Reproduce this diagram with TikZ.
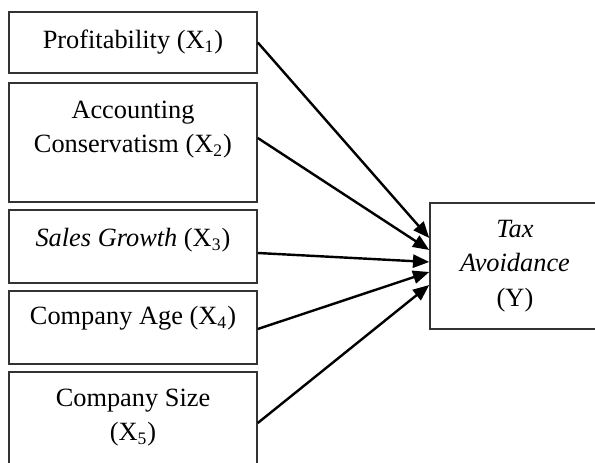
\documentclass[tikz,border=0pt]{standalone}
\usepackage{fontspec}
\setmainfont{Liberation Serif}
\usetikzlibrary{arrows.meta,positioning}

\begin{document}
\begin{tikzpicture}[
  font=\fontsize{12}{15.8}\selectfont,
  >={Triangle[length=2.6mm,width=2.1mm]},
  every node/.style={inner sep=0pt, text=black},
  box/.style={draw=black!80, line width=0.7pt, minimum width=3.968cm, align=center},
  ybox/.style={draw=black!80, line width=0.7pt, minimum width=2.72cm,
               minimum height=2.016cm, align=center},
  txt/.style={align=center},
  flow/.style={draw=black, line width=1.1pt, ->},
]
\useasboundingbox (0,0) rectangle (9.52,7.408);
\clip (0,0) rectangle (9.52,7.408);

% ---------------- independent variables ----------------
\node[box, minimum height=0.976cm] (x1) at (2.128,6.728) {Profitability (X\textsubscript{1})};

\node[box, minimum height=1.904cm] (x2) at (2.128,5.128) {};
\node[txt] (x2t) at (2.128,5.336) {Accounting\\Conservatism (X\textsubscript{2})};

\node[box, minimum height=1.168cm] (x3) at (2.128,3.464) {};
\node[txt] (x3t) at (2.128,3.568) {\textit{Sales Growth} (X\textsubscript{3})};

\node[box, minimum height=1.168cm] (x4) at (2.128,2.168) {};
\node[txt] (x4t) at (2.128,2.32) {Company Age (X\textsubscript{4})};

\node[box, minimum height=1.536cm] (x5) at (2.128,0.688) {};
\node[txt] (x5t) at (2.128,0.728) {Company Size\\(X\textsubscript{5})};

% ---------------- dependent variable ----------------
\node[ybox] (y) at (8.24,3.152) {\textit{Tax}\\\textit{Avoidance}\\(Y)};

% ---------------- paths ----------------
\draw[flow] (x1.east) -- ([yshift=0.448cm]y.west);
\draw[flow] ([yshift=0.072cm]x2.east) -- ([yshift=0.256cm]y.west);
\draw[flow] ([yshift=-0.104cm]x3.east) -- ([yshift=0.064cm]y.west);
\draw[flow] ([yshift=-0.024cm]x4.east) -- ([yshift=-0.096cm]y.west);
\draw[flow] ([yshift=-0.048cm]x5.east) -- ([yshift=-0.304cm]y.west);

\end{tikzpicture}
\end{document}
